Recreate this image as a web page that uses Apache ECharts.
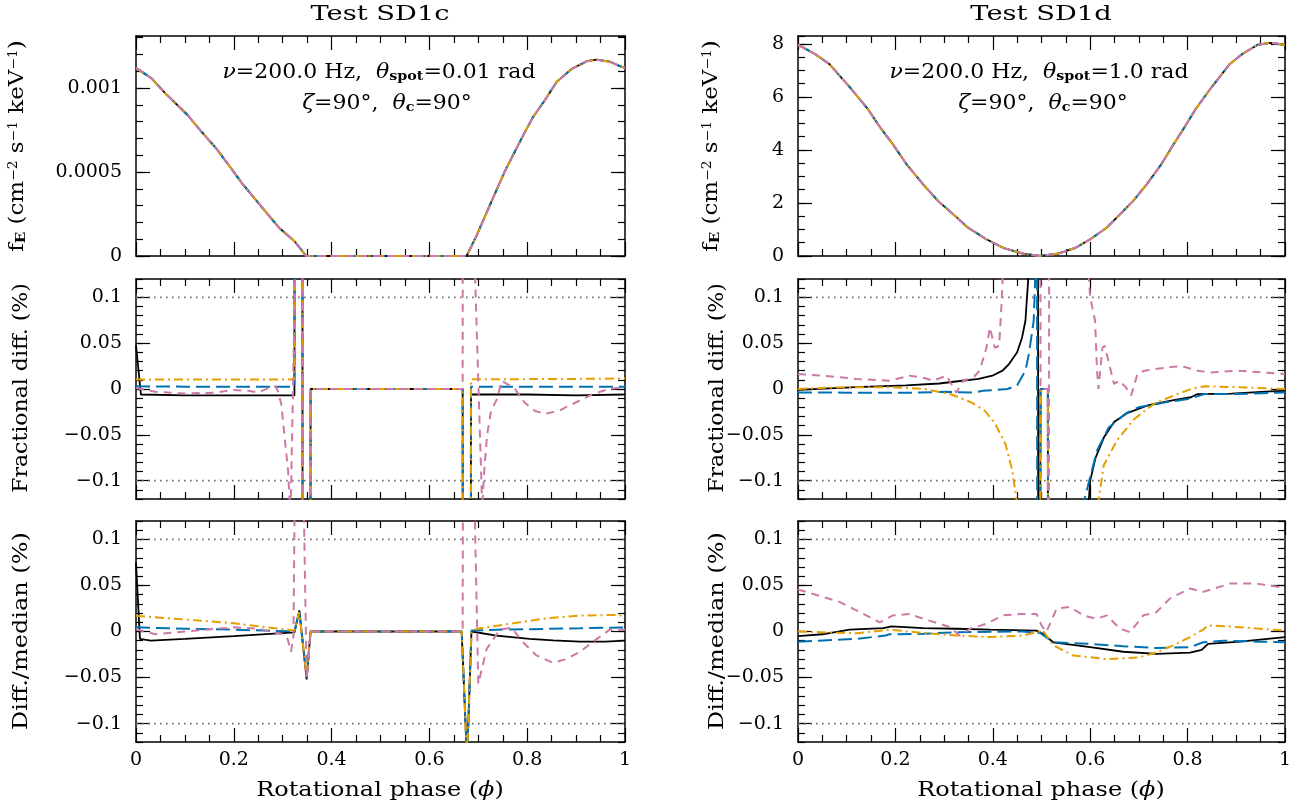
<!DOCTYPE html>
<html>
<head>
<meta charset="utf-8">
<script src="https://cdn.jsdelivr.net/npm/echarts@6/dist/echarts.min.js"></script>
<style>
html, body { margin: 0; padding: 0; background: #fff; }
#chart { width: 1302px; height: 812px; }
</style>
</head>
<body>
<div id="chart"></div>
<script>
// ---- data: [phase, value] pairs ----
// top row, pulse profiles (all four codes overlap)
const fluxC = [[0,0.00112],[0.031,0.00106],[0.061,0.000966],[0.106,0.000838],[0.133,0.000743],[0.164,0.000641],[0.191,0.000536],[0.218,0.000428],[0.242,0.000345],[0.270,0.000246],[0.293,0.000167],[0.324,0.0000888],[0.348,0],[0.676,0],[0.696,0.000118],[0.727,0.000325],[0.754,0.000503],[0.792,0.00072],[0.812,0.000828],[0.836,0.000927],[0.860,0.001036],[0.891,0.001114],[0.922,0.00116],[0.942,0.001169],[0.969,0.001157],[0.990,0.00113],[1,0.00112]];
const fluxD = [[0,7.97],[0.034,7.63],[0.065,7.23],[0.110,6.29],[0.144,5.53],[0.168,4.87],[0.195,4.21],[0.223,3.46],[0.257,2.70],[0.288,2.07],[0.319,1.57],[0.349,1.07],[0.387,0.63],[0.421,0.31],[0.462,0.09],[0.497,0],[0.534,0.09],[0.570,0.31],[0.600,0.63],[0.634,1.07],[0.661,1.57],[0.688,2.07],[0.716,2.70],[0.746,3.46],[0.771,4.21],[0.794,4.87],[0.816,5.53],[0.846,6.29],[0.886,7.23],[0.913,7.63],[0.944,7.97],[0.970,8.04],[1,7.97]];

// middle row, fractional difference (%)
const fracC_black = [[0,0.048],[0.01,-0.006],[0.1,-0.007],[0.2,-0.007],[0.324,-0.007],[0.326,1],[0.340,1],[0.341,-1],[0.356,-1],[0.357,0],[0.668,0],[0.669,-1],[0.684,-1],[0.685,-0.006],[0.8,-0.006],[0.9,-0.007],[1,-0.006]];
const fracC_blue = [[0,0.003],[0.1,0.0025],[0.324,0.0025],[0.326,1],[0.340,1],[0.341,-1],[0.356,-1],[0.357,0],[0.668,0],[0.669,-1],[0.684,-1],[0.685,0.0025],[1,0.0025]];
const fracC_orange = [[0,0.0105],[0.324,0.0105],[0.326,1],[0.340,1],[0.341,-1],[0.356,-1],[0.357,0],[0.668,0],[0.669,-1],[0.684,-1],[0.685,0.0105],[0.9,0.011],[1,0.0115]];
const fracC_pink = [[0,0.001],[0.04,-0.003],[0.1,-0.005],[0.16,-0.004],[0.2,-0.001],[0.23,-0.002],[0.25,-0.004],[0.275,0.002],[0.285,0.003],[0.29,-0.002],[0.297,-0.016],[0.304,-0.053],[0.311,-0.089],[0.316,-0.14],[0.326,0.14],[0.327,1],[0.340,1],[0.341,-1],[0.356,-1],[0.357,0],[0.668,0],[0.669,1],[0.688,1],[0.693,0.13],[0.708,-0.13],[0.712,-0.09],[0.718,-0.05],[0.726,-0.024],[0.738,-0.011],[0.748,0.009],[0.775,0.0],[0.795,-0.015],[0.816,-0.024],[0.836,-0.027],[0.864,-0.024],[0.898,-0.015],[0.932,-0.006],[0.966,0.0],[1,0.002]];

const fracD_black = [[0,-0.001],[0.12,0.002],[0.222,0.004],[0.29,0.006],[0.337,0.009],[0.371,0.011],[0.399,0.0145],[0.42,0.02],[0.433,0.027],[0.45,0.04],[0.46,0.056],[0.467,0.0745],[0.474,0.13],[0.485,0.4],[0.492,1],[0.494,-1],[0.497,-1],[0.498,0],[0.513,0],[0.515,-1],[0.585,-1],[0.596,-0.13],[0.60,-0.1],[0.611,-0.075],[0.628,-0.053],[0.649,-0.036],[0.677,-0.026],[0.718,-0.018],[0.766,-0.0128],[0.807,-0.009],[0.82,-0.0055],[0.89,-0.005],[0.97,-0.0026],[1,-0.002]];
const fracD_blue = [[0,-0.0037],[0.1,-0.004],[0.24,-0.004],[0.305,-0.003],[0.36,-0.004],[0.38,-0.002],[0.43,0.0],[0.45,0.004],[0.467,0.02],[0.474,0.038],[0.484,0.0745],[0.489,0.15],[0.49,1],[0.492,-1],[0.497,-1],[0.498,0],[0.513,0],[0.515,-1],[0.58,-1],[0.586,-0.125],[0.6,-0.096],[0.614,-0.067],[0.638,-0.042],[0.675,-0.026],[0.699,-0.02],[0.754,-0.0146],[0.801,-0.011],[0.835,-0.0055],[0.904,-0.0055],[1,-0.0037]];
const fracD_orange = [[0,0.0],[0.09,0.002],[0.19,0.002],[0.26,0.0],[0.315,-0.006],[0.356,-0.0146],[0.384,-0.024],[0.405,-0.038],[0.426,-0.06],[0.44,-0.089],[0.45,-0.125],[0.47,-0.3],[0.496,-1],[0.497,-1],[0.498,0],[0.513,0],[0.515,-1],[0.61,-1],[0.616,-0.125],[0.628,-0.083],[0.655,-0.056],[0.69,-0.033],[0.731,-0.016],[0.779,-0.0055],[0.807,0.0],[0.835,0.003],[0.904,0.002],[1,0.0]];
const fracD_pink = [[0,0.0164],[0.051,0.0145],[0.12,0.011],[0.188,0.009],[0.229,0.0145],[0.26,0.012],[0.277,0.009],[0.305,0.0145],[0.325,-0.004],[0.339,0.009],[0.36,0.0125],[0.373,0.02],[0.387,0.045],[0.394,0.067],[0.404,0.045],[0.413,0.047],[0.418,0.093],[0.421,0.13],[0.43,0.5],[0.49,1],[0.497,1],[0.498,0],[0.513,0],[0.514,-1],[0.516,-1],[0.517,1],[0.575,1],[0.586,0.2],[0.6,0.1],[0.61,0.0745],[0.614,0.02],[0.617,0.0],[0.625,0.045],[0.63,0.047],[0.639,0.027],[0.649,0.0055],[0.66,0.009],[0.673,0.002],[0.684,-0.007],[0.697,0.0164],[0.711,0.02],[0.738,0.022],[0.766,0.024],[0.787,0.025],[0.807,0.022],[0.821,0.02],[0.848,0.018],[0.903,0.02],[1,0.0164]];

// bottom row, difference relative to the median (%)
const medC_black = [[0,0.075],[0.008,-0.008],[0.03,-0.010],[0.1,-0.008],[0.2,-0.005],[0.324,-0.001],[0.334,0.023],[0.349,-0.052],[0.357,0],[0.666,0],[0.677,-0.14],[0.686,0],[0.737,-0.0045],[0.805,-0.008],[0.853,-0.0097],[0.908,-0.011],[0.96,-0.011],[1,-0.010]];
const medC_blue = [[0,0.0045],[0.1,0.003],[0.2,0.002],[0.324,0.0],[0.334,0.022],[0.349,-0.05],[0.357,0],[0.666,0],[0.677,-0.14],[0.686,0.001],[0.737,0.002],[0.805,0.0025],[0.908,0.0035],[1,0.0045]];
const medC_orange = [[0,0.017],[0.1,0.013],[0.2,0.009],[0.324,0.001],[0.334,0.021],[0.349,-0.05],[0.357,0],[0.666,0],[0.677,-0.14],[0.686,0.0],[0.697,0.003],[0.772,0.009],[0.84,0.0143],[0.908,0.0173],[0.976,0.018],[1,0.017]];
const medC_pink = [[0,0.0025],[0.04,-0.003],[0.1,0.0],[0.2,0.0045],[0.25,0.003],[0.3,-0.003],[0.31,-0.008],[0.317,-0.022],[0.322,-0.005],[0.327,0.3],[0.338,0.3],[0.349,-0.05],[0.357,0],[0.668,0],[0.669,0.3],[0.686,0.3],[0.700,-0.057],[0.717,-0.019],[0.744,0.002],[0.768,0.004],[0.792,-0.012],[0.819,-0.026],[0.853,-0.034],[0.88,-0.030],[0.908,-0.022],[0.935,-0.011],[0.969,0.002],[1,0.002]];

const medD_black = [[0,-0.005],[0.05,-0.003],[0.106,0.002],[0.175,0.0036],[0.192,0.0055],[0.257,0.0036],[0.325,0.003],[0.394,0.002],[0.49,0.001],[0.503,-0.0025],[0.524,-0.0117],[0.60,-0.017],[0.668,-0.022],[0.736,-0.0244],[0.805,-0.023],[0.829,-0.020],[0.842,-0.0135],[0.908,-0.011],[1,-0.006]];
const medD_blue = [[0,-0.011],[0.12,-0.008],[0.18,-0.0044],[0.188,-0.003],[0.257,-0.0025],[0.325,-0.0007],[0.462,0.0],[0.497,-0.0015],[0.524,-0.0117],[0.6,-0.0135],[0.668,-0.016],[0.736,-0.018],[0.805,-0.017],[0.832,-0.0117],[0.873,-0.010],[0.942,-0.011],[1,-0.0117]];
const medD_orange = [[0,0.0],[0.12,-0.002],[0.188,0.002],[0.257,-0.0015],[0.325,-0.0044],[0.394,-0.006],[0.462,-0.0044],[0.49,-0.0007],[0.503,0.001],[0.524,-0.015],[0.565,-0.026],[0.634,-0.03],[0.702,-0.028],[0.736,-0.0226],[0.771,-0.015],[0.805,-0.006],[0.832,0.002],[0.842,0.0066],[0.908,0.0047],[1,0.001]];
const medD_pink = [[0,0.0457],[0.086,0.032],[0.168,0.010],[0.195,0.0175],[0.229,0.019],[0.257,0.0138],[0.291,0.0084],[0.312,0.0047],[0.332,-0.0044],[0.353,0.003],[0.387,0.0084],[0.421,0.0175],[0.455,0.019],[0.49,0.019],[0.5,0.0066],[0.51,-0.0007],[0.531,0.0248],[0.558,0.0266],[0.586,0.0175],[0.613,0.0138],[0.634,0.0175],[0.661,0.003],[0.682,-0.0007],[0.709,0.0175],[0.736,0.021],[0.764,0.036],[0.805,0.0466],[0.832,0.043],[0.887,0.052],[0.942,0.052],[1,0.0474]];

// tick values
const fluxCTicks = [0, 0.0005, 0.001];
const fluxDTicks = [0, 2, 4, 6, 8];
const diffTicks = [-0.1, -0.05, 0, 0.05, 0.1];
const refLevels = [0.1, -0.1];

// ---- styling ----
const FONT = '"DejaVu Serif", "Liberation Serif", serif';
const lineStyles = [
  { color: '#000000', width: 1.8, type: 'solid' },
  { color: '#0072B2', width: 2, type: [14, 6] },
  { color: '#E69F00', width: 2, type: [9, 4, 2, 4] },
  { color: '#CC79A7', width: 2, type: [8, 6] }
];

const panels = [
  { grid: { left: 136, top: 36, width: 489, height: 220 }, min: 0, max: 0.00131, minor: 0.0001, ticks: fluxCTicks, curves: [fluxC, fluxC, fluxC, fluxC], ref: false, xLabels: false },
  { grid: { left: 798, top: 36, width: 487, height: 220 }, min: 0, max: 8.3, minor: 0.5, ticks: fluxDTicks, curves: [fluxD, fluxD, fluxD, fluxD], ref: false, xLabels: false },
  { grid: { left: 136, top: 279, width: 489, height: 220 }, min: -0.12, max: 0.12, minor: 0.01, ticks: diffTicks, curves: [fracC_black, fracC_blue, fracC_orange, fracC_pink], ref: true, xLabels: false },
  { grid: { left: 798, top: 279, width: 487, height: 220 }, min: -0.12, max: 0.12, minor: 0.01, ticks: diffTicks, curves: [fracD_black, fracD_blue, fracD_orange, fracD_pink], ref: true, xLabels: false },
  { grid: { left: 136, top: 521, width: 489, height: 221 }, min: -0.12, max: 0.12, minor: 0.01, ticks: diffTicks, curves: [medC_black, medC_blue, medC_orange, medC_pink], ref: true, xLabels: true },
  { grid: { left: 798, top: 521, width: 487, height: 221 }, min: -0.12, max: 0.12, minor: 0.01, ticks: diffTicks, curves: [medD_black, medD_blue, medD_orange, medD_pink], ref: true, xLabels: true }
];

const tickLine = { color: '#000', width: 1.2 };
const axisLine = { show: true, onZero: false, lineStyle: { color: '#000', width: 1.5 } };

function fmtNum(v) {
  const s = String(+v.toFixed(6));
  return v < 0 ? '\u2212' + s.slice(1) : s;
}

const grids = [], xAxes = [], yAxes = [], series = [];

panels.forEach((p, gi) => {
  grids.push(p.grid);

  const xi = xAxes.length;
  ['bottom', 'top'].forEach(pos => {
    xAxes.push({
      type: 'value', gridIndex: gi, position: pos, min: 0, max: 1, interval: 0.2,
      axisLine: axisLine,
      axisTick: { inside: true, length: 14, lineStyle: tickLine },
      minorTick: { show: true, splitNumber: 4, length: 7, lineStyle: tickLine },
      splitLine: { show: false }, minorSplitLine: { show: false },
      axisLabel: {
        show: pos === 'bottom' && p.xLabels, margin: 9, color: '#000',
        fontFamily: FONT, fontSize: 19,
        formatter: v => String(Math.round(v * 10) / 10)
      }
    });
  });

  const yi = yAxes.length;
  ['left', 'right'].forEach(pos => {
    // minor ticks + frame line
    yAxes.push({
      type: 'value', gridIndex: gi, position: pos, min: p.min, max: p.max, interval: p.minor,
      axisLine: axisLine,
      axisTick: { inside: true, length: 7, lineStyle: tickLine },
      splitLine: { show: false },
      axisLabel: { show: false }
    });
    // major ticks + labels
    yAxes.push({
      type: 'value', gridIndex: gi, position: pos, min: p.min, max: p.max,
      axisLine: { show: false, onZero: false },
      axisTick: { inside: true, length: 14, lineStyle: tickLine, customValues: p.ticks },
      splitLine: { show: false },
      axisLabel: {
        show: pos === 'left', customValues: p.ticks, margin: 14, color: '#000',
        fontFamily: FONT, fontSize: 19, formatter: fmtNum
      }
    });
  });

  if (p.ref) {
    refLevels.forEach(lv => {
      series.push({
        type: 'line', xAxisIndex: xi, yAxisIndex: yi, data: [[0, lv], [1, lv]],
        showSymbol: false, symbol: 'none', silent: true, z: 1,
        lineStyle: { color: '#707070', width: 1.6, type: [1.6, 4.4] }
      });
    });
  }

  p.curves.forEach((c, k) => {
    series.push({
      type: 'line', xAxisIndex: xi, yAxisIndex: yi, data: c,
      showSymbol: false, symbol: 'none', silent: true, clip: true, z: 2 + k,
      lineStyle: lineStyles[k]
    });
  });
});

// ---- text ----
function makeRich(size) {
  return {
    i: { fontFamily: FONT, fontStyle: 'italic', fontSize: size },
    sub: { fontFamily: FONT, fontSize: Math.round(size * 0.65), verticalAlign: 'bottom', fontWeight: 'bold' },
    sup: { fontFamily: FONT, fontSize: Math.round(size * 0.62), verticalAlign: 'top' },
    n: { fontFamily: FONT, fontSize: size }
  };
}

function txt(x, y, text, size, sx, rot) {
  return {
    type: 'text', x: x, y: y, rotation: rot || 0, scaleX: sx, silent: true,
    style: {
      text: text, fill: '#000', font: size + 'px ' + FONT,
      align: 'center', verticalAlign: 'middle', rich: makeRich(size)
    }
  };
}

const fLabel = '{n|f}{sub|E}{n| (cm}{sup|−2}{n| s}{sup|−1}{n| keV}{sup|−1}{n|)}';
const phaseLabel = '{n|Rotational phase (}{i|ϕ}{n|)}';
const V = Math.PI / 2;

const graphics = [
  txt(380, 15, 'Test SD1c', 21, 1.3),
  txt(1041, 15, 'Test SD1d', 21, 1.3),
  txt(379, 73, '{i|ν}{n|=200.0 Hz,  }{i|θ}{sub|spot}{n|=0.01 rad}', 20, 1.1),
  txt(387, 104, '{i|ζ}{n|=90°,  }{i|θ}{sub|c}{n|=90°}', 20, 1.1),
  txt(1039, 73, '{i|ν}{n|=200.0 Hz,  }{i|θ}{sub|spot}{n|=1.0 rad}', 20, 1.1),
  txt(1043, 104, '{i|ζ}{n|=90°,  }{i|θ}{sub|c}{n|=90°}', 20, 1.1),
  txt(18, 146, fLabel, 20, 1.15, V),
  txt(22, 388, 'Fractional diff. (%)', 20, 1.1, V),
  txt(22, 631, 'Diff./median (%)', 20, 1.2, V),
  txt(712, 146, fLabel, 20, 1.15, V),
  txt(718, 388, 'Fractional diff. (%)', 20, 1.1, V),
  txt(718, 631, 'Diff./median (%)', 20, 1.2, V),
  txt(380, 791, phaseLabel, 20, 1.2),
  txt(1041, 791, phaseLabel, 20, 1.2)
];

const chart = echarts.init(document.getElementById('chart'), null, { renderer: 'canvas' });
chart.setOption({
  backgroundColor: '#fff',
  animation: false,
  grid: grids,
  xAxis: xAxes,
  yAxis: yAxes,
  series: series,
  graphic: graphics
});
</script>
</body>
</html>
